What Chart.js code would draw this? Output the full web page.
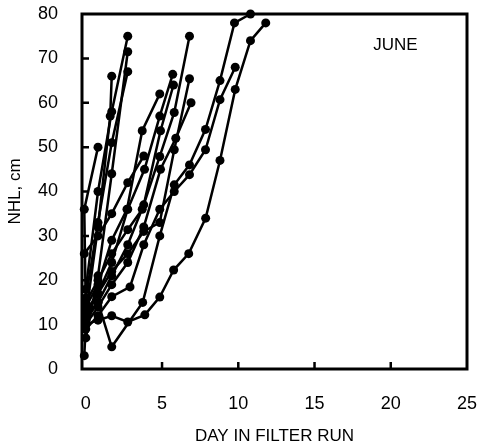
<!DOCTYPE html>
<html lang="en">
  <head>
    <meta charset="UTF-8" />
    <title>NHL vs day in filter run - June</title>
    <style>
      html, body { margin: 0; padding: 0; background: #fff; }
      .chart-container { position: relative; width: 481px; height: 447px; }
    </style>
  </head>
  <body>
    <div class="chart-container">
      <canvas id="myChart" width="481" height="447"></canvas>
    </div>

    <script src="https://cdn.jsdelivr.net/npm/chart.js"></script>

    <script>
      // each filter run: [day, NHL cm] pairs
      const run01 = [[-0.1, 3], [0, 10], [0.8, 11], [1.7, 12], [2.75, 10.6], [3.87, 12.2], [4.85, 16.2], [5.76, 22.3], [6.75, 26], [7.86, 34], [8.8, 47], [9.8, 63], [10.8, 74], [11.8, 78]];
      const run02 = [[0, 12], [0.8, 15], [1.7, 5], [3.73, 15], [4.85, 30], [5.8, 41.5], [6.8, 46], [7.85, 54], [8.8, 65], [9.75, 78], [10.8, 80]];
      const run03 = [[0, 9], [0.8, 12], [1.7, 16.3], [2.9, 18.5], [3.8, 28], [4.85, 36], [5.8, 40], [6.8, 43.8], [7.85, 49.4], [8.8, 60.7], [9.8, 68]];
      const run04 = [[0, 15], [0.8, 20], [1.7, 26], [2.75, 31.4], [3.7, 36], [4.85, 47.9], [5.8, 57.8], [6.8, 75]];
      const run05 = [[0, 13], [0.8, 17], [1.7, 22], [2.75, 26], [3.8, 31], [4.85, 33], [5.8, 49.4], [6.8, 65.4]];
      const run06 = [[0, 10], [0.8, 14], [1.7, 19], [2.75, 24], [3.8, 32], [4.9, 45], [5.9, 52], [6.9, 60]];
      const run07 = [[0, 11], [0.8, 15], [1.7, 21], [2.75, 28], [3.8, 37], [4.9, 53.7], [5.75, 64]];
      const run08 = [[0, 12], [0.8, 17], [1.7, 24], [2.75, 36], [3.85, 45], [4.85, 57], [5.7, 66.4]];
      const run09 = [[0, 14], [0.8, 19], [1.7, 29], [2.7, 36], [3.7, 53.7], [4.85, 62]];
      const run10 = [[0, 18], [0.8, 40], [1.7, 58], [2.75, 75]];
      const run11 = [[0, 7], [0.8, 21], [1.7, 44], [2.75, 71.5]];
      const run12 = [[0, 16], [0.8, 33], [1.7, 51], [2.75, 67]];
      const run13 = [[0, 12], [0.8, 32], [1.6, 57], [1.7, 66]];
      const run14 = [[0, 13], [-0.1, 36], [0.8, 50]];
      const run15 = [[-0.1, 26], [0.8, 30], [1.7, 35], [2.75, 42], [3.8, 48]];

      const runs = [run01, run02, run03, run04, run05, run06, run07, run08, run09, run10, run11, run12, run13, run14, run15];

      const xTickValues = [0, 5, 10, 15, 20, 25];
      const yTickValues = [0, 10, 20, 30, 40, 50, 60, 70, 80];
      const monthLabel = "JUNE";

      const tickFont = { family: "Liberation Sans", size: 18 };
      const titleFont = { family: "Liberation Sans", size: 17 };

      // frame, inward tick marks and the month label
      const framePlugin = {
        id: "frame",
        afterDraw(chart) {
          const { ctx, chartArea, scales } = chart;
          const { left, right, top, bottom } = chartArea;
          ctx.save();
          ctx.strokeStyle = "#000";
          ctx.lineWidth = 3;
          ctx.strokeRect(left, top, right - left, bottom - top);

          ctx.lineWidth = 2.5;
          ctx.beginPath();
          yTickValues.slice(1, -1).forEach((v) => {
            const py = scales.y.getPixelForValue(v);
            ctx.moveTo(left, py);
            ctx.lineTo(left + 7, py);
          });
          xTickValues.slice(1, -1).forEach((v) => {
            const px = scales.x.getPixelForValue(v);
            ctx.moveTo(px, bottom);
            ctx.lineTo(px, bottom - 7);
          });
          ctx.stroke();

          ctx.fillStyle = "#000";
          ctx.font = "17px 'Liberation Sans'";
          ctx.textAlign = "center";
          ctx.textBaseline = "middle";
          ctx.fillText(monthLabel, scales.x.getPixelForValue(20.3), scales.y.getPixelForValue(73));
          ctx.restore();
        },
      };

      const ctx = document.getElementById("myChart").getContext("2d");

      new Chart(ctx, {
        type: "scatter",
        data: {
          datasets: runs.map((run, i) => ({
            label: "run " + (i + 1),
            data: run.map(([x, y]) => ({ x, y })),
            showLine: true,
            borderColor: "#000",
            backgroundColor: "#000",
            borderWidth: 2.5,
            pointRadius: 4.5,
            pointBorderWidth: 0,
            clip: false,
          })),
        },
        options: {
          responsive: false,
          animation: false,
          layout: { padding: { top: 14, right: 14, left: 0, bottom: 0 } },
          plugins: {
            legend: { display: false },
            tooltip: { enabled: false },
          },
          scales: {
            x: {
              type: "linear",
              min: -0.25,
              max: 25,
              afterBuildTicks: (scale) => {
                scale.ticks = xTickValues.map((v) => ({ value: v }));
              },
              afterFit: (scale) => {
                scale.height = 78;
                scale.paddingLeft = 0;
                scale.paddingRight = 0;
              },
              grid: { display: false },
              border: { display: false },
              ticks: { color: "#000", font: tickFont, padding: 16, maxRotation: 0 },
              title: {
                display: true,
                text: "DAY IN FILTER RUN",
                color: "#000",
                font: titleFont,
                padding: { top: 0, bottom: 0 },
              },
            },
            y: {
              min: 0,
              max: 80,
              afterBuildTicks: (scale) => {
                scale.ticks = yTickValues.map((v) => ({ value: v }));
              },
              afterFit: (scale) => {
                scale.width = 82;
                scale.paddingTop = 0;
                scale.paddingBottom = 0;
              },
              grid: { display: false },
              border: { display: false },
              ticks: { color: "#000", font: tickFont, padding: 16 },
              title: {
                display: true,
                text: "NHL, cm",
                color: "#000",
                font: titleFont,
                padding: { top: 5, bottom: 0 },
              },
            },
          },
        },
        plugins: [framePlugin],
      });
    </script>
  </body>
</html>
